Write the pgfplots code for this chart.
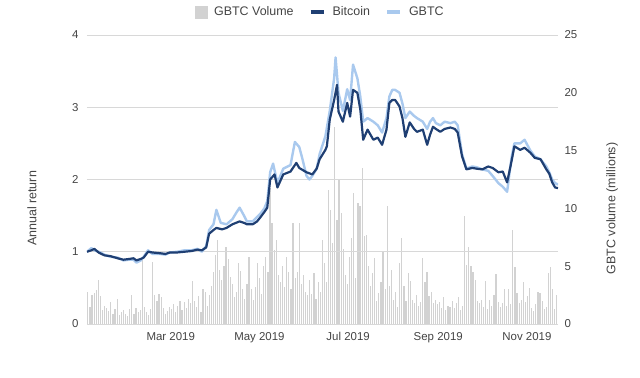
\documentclass[border=0pt]{standalone}
\usepackage{pgfplots}
\pgfplotsset{compat=1.18}
\usepackage{fontspec}
\setmainfont{Liberation Sans}
\definecolor{btc}{HTML}{1F3F73}
\definecolor{gbtc}{HTML}{A9C9EE}
\definecolor{vol}{HTML}{D2D2D2}
\definecolor{gridc}{HTML}{D8D8D8}
\definecolor{tickc}{HTML}{444444}
\begin{document}
\begin{tikzpicture}
\path[use as bounding box] (-87bp,-54bp) rectangle (553bp,324bp);
% volume axis (right)
\begin{axis}[
  scale only axis, width=471bp, height=289bp,
  xmin=0, xmax=324, ymin=0, ymax=25,
  axis line style={draw=none}, major tick length=0pt,
  xtick=\empty,
  ytick={0,5,10,15,20,25},
  yticklabel pos=right,
  /pgf/number format/assume math mode=true,
  yticklabel style={font=\fontsize{11.5}{13}\selectfont, text=tickc, xshift=3bp},
  ylabel={GBTC volume (millions)},
  ylabel style={at={(axis description cs:1.115,0.40)}, anchor=center, rotate=0, font=\fontsize{12.5}{14}\selectfont, text=tickc},
]
\addplot[ycomb, vol, line width=1.2bp, mark=none, forget plot] table[row sep=\\, x expr=\coordindex*1.44+0.6, y=v]{
v\\
2.8\\1.5\\2.5\\2.7\\2.9\\ 3.8\\2.4\\1.2\\1.6\\1.4\\ 1.1\\1.9\\0.9\\1.3\\2.2\\ 0.8\\1.0\\1.2\\0.9\\0.7\\
1.3\\2.5\\0.9\\1.4\\1.0\\ 1.2\\5.6\\1.5\\1.0\\0.8\\ 1.3\\5.4\\2.5\\2.0\\2.6\\ 2.3\\1.4\\0.9\\1.1\\1.5\\
1.3\\1.7\\1.0\\1.6\\2.0\\ 1.2\\1.9\\1.4\\2.2\\1.8\\ 3.7\\2.0\\1.5\\2.4\\1.0\\ 3.0\\2.8\\1.6\\2.5\\3.3\\
4.5\\6.0\\7.3\\4.7\\3.8\\ 5.0\\6.7\\5.6\\4.1\\3.5\\ 2.3\\2.8\\5.3\\4.6\\3.0\\ 2.2\\3.5\\5.8\\3.0\\2.1\\
3.2\\5.3\\4.0\\2.6\\5.0\\ 5.8\\4.5\\11.8\\8.7\\6.4\\ 7.3\\4.2\\3.6\\5.0\\3.2\\ 5.8\\4.5\\3.0\\8.7\\4.0\\
4.5\\8.7\\3.5\\4.2\\2.8\\ 2.5\\3.8\\2.6\\4.4\\2.2\\ 3.6\\2.8\\7.3\\5.3\\3.6\\ 11.6\\9.9\\7.0\\17.0\\9.0\\
12.5\\9.6\\6.5\\4.2\\3.5\\ 5.8\\7.4\\11.3\\4.0\\10.5\\ 10.2\\13.5\\7.6\\7.7\\5.0\\ 3.3\\4.4\\5.7\\2.0\\2.7\\
3.6\\6.2\\3.0\\10.2\\3.3\\ 4.7\\2.1\\2.8\\1.5\\5.3\\ 7.4\\3.3\\2.0\\4.4\\3.7\\ 2.1\\1.8\\2.5\\1.6\\1.9\\
5.7\\3.6\\4.5\\2.4\\2.8\\ 1.8\\2.1\\1.7\\1.9\\1.4\\ 2.3\\1.2\\1.6\\1.5\\2.0\\ 1.4\\1.8\\2.3\\1.2\\1.6\\
9.3\\5.1\\6.7\\5.0\\4.5\\ 3.8\\2.0\\1.8\\2.1\\1.5\\ 3.7\\1.3\\2.1\\1.6\\2.5\\ 4.3\\1.9\\1.5\\1.8\\3.0\\
1.6\\3.0\\1.7\\8.1\\4.9\\ 2.7\\1.8\\2.1\\3.6\\1.9\\ 2.4\\3.1\\1.4\\1.1\\1.7\\ 2.8\\2.7\\2.0\\1.3\\1.5\\
4.4\\4.9\\3.0\\1.3\\2.5\\
};
\end{axis}
% return axis (left)
\begin{axis}[
  scale only axis, width=471bp, height=289bp,
  xmin=0, xmax=324, ymin=0, ymax=4,
  axis line style={draw=none}, major tick length=0pt,
  xtick={59,120,181,243,304},
  xticklabels={Mar 2019, May 2019, Jul 2019, Sep 2019, Nov 2019},
  ytick={0,1,2,3,4},
  ymajorgrids, grid style={gridc, line width=0.9bp},
  /pgf/number format/assume math mode=true,
  yticklabel style={font=\fontsize{11.5}{13}\selectfont, text=tickc, xshift=-5bp},
  xticklabel style={font=\fontsize{11.5}{13}\selectfont, text=tickc, yshift=-5bp, xshift=-2bp},
  ylabel={Annual return},
  ylabel style={at={(axis description cs:-0.117,0.40)}, anchor=center, font=\fontsize{12.5}{14}\selectfont, text=tickc},
  legend style={at={(0.495,1.08)}, anchor=center, draw=none, fill=none,
    legend columns=-1, font=\fontsize{12.5}{14}\selectfont, text=tickc,
    /tikz/every odd column/.append style={column sep=5bp},
    /tikz/every even column/.append style={column sep=13bp}},
]
\addlegendimage{legend image code/.code={\fill[vol] (0bp,-6bp) rectangle (12bp,6bp);}}
\addlegendimage{legend image code/.code={\draw[btc, line width=4bp] (0bp,0bp) -- (13bp,0bp);}}
\addlegendimage{legend image code/.code={\draw[gbtc, line width=4bp] (0bp,0bp) -- (13bp,0bp);}}
\addplot[gbtc, line width=2.4bp, mark=none, forget plot, line join=round] coordinates {
(0,1.00)(3,1.05)(5,1.02)(8,1.00)(12,0.96)(16,0.93)(21,0.92)(25,0.88)(29,0.89)(32,0.89)
(34,0.85)(37,0.88)(39,0.93)(42,1.02)(45,0.97)(50,0.97)(54,0.96)(57,0.99)(62,1.00)(67,1.02)
(72,1.02)(76,1.04)(79,1.00)(82,1.08)(84,1.30)(87,1.38)(89,1.58)(92,1.40)(96,1.38)(100,1.45)
(103,1.55)(105,1.61)(108,1.50)(110,1.42)(114,1.42)(117,1.48)(119,1.52)(122,1.60)(124,1.70)(126,2.10)
(128,2.22)(131,1.95)(135,2.15)(140,2.20)(143,2.52)(146,2.45)(148,2.30)(151,2.05)(153,2.00)(155,2.05)
(158,2.15)(160,2.35)(164,2.60)(167,2.95)(170,3.40)(171,3.69)(173,3.20)(176,2.95)(179,3.25)(181,3.10)
(183,3.59)(186,3.40)(188,3.15)(190,2.80)(193,2.85)(197,2.80)(200,2.75)(203,2.65)(206,2.85)(208,3.15)
(210,3.24)(212,3.24)(215,3.20)(217,3.05)(219,2.85)(222,2.94)(225,2.88)(227,2.85)(231,2.80)(234,2.70)
(236,2.80)(238,2.85)(240,2.78)(243,2.75)(246,2.80)(250,2.78)(253,2.80)(255,2.75)(258,2.35)(261,2.15)
(265,2.18)(268,2.17)(272,2.14)(276,2.12)(279,2.05)(283,1.95)(286,1.90)(289,1.83)(292,2.30)(294,2.50)
(298,2.50)(301,2.55)(305,2.40)(308,2.32)(312,2.28)(316,2.18)(318,2.10)(320,2.00)(322,1.95)(324,1.93)
};
\addplot[btc, line width=2.2bp, mark=none, forget plot, line join=round] coordinates {
(0,1.00)(3,1.02)(5,1.04)(8,0.99)(12,0.95)(16,0.94)(21,0.91)(25,0.89)(29,0.90)(32,0.91)
(34,0.88)(37,0.90)(39,0.92)(42,1.00)(45,0.99)(50,0.98)(54,0.97)(57,0.99)(62,0.99)(67,1.00)
(72,1.01)(76,1.03)(79,1.02)(82,1.06)(84,1.25)(87,1.30)(89,1.33)(93,1.31)(96,1.33)(100,1.38)
(105,1.42)(108,1.40)(110,1.38)(114,1.38)(117,1.42)(119,1.47)(122,1.55)(124,1.61)(126,2.00)(129,2.07)
(131,1.89)(135,2.07)(140,2.11)(144,2.23)(146,2.16)(151,2.10)(155,2.07)(158,2.15)(160,2.28)(164,2.41)
(165,2.46)(167,2.83)(170,3.10)(172,3.31)(173,2.94)(176,2.80)(179,3.06)(181,2.87)(183,3.24)(186,3.20)
(188,2.97)(190,2.55)(193,2.69)(197,2.55)(200,2.58)(203,2.48)(206,2.69)(208,3.06)(210,3.10)(212,3.10)
(215,3.01)(217,2.85)(219,2.59)(222,2.79)(225,2.70)(227,2.66)(231,2.69)(234,2.48)(236,2.62)(238,2.73)
(240,2.70)(243,2.66)(246,2.70)(250,2.72)(253,2.70)(255,2.65)(258,2.32)(261,2.14)(265,2.16)(268,2.15)
(272,2.14)(276,2.18)(279,2.16)(283,2.10)(286,2.11)(289,1.96)(292,2.25)(294,2.46)(298,2.41)(301,2.44)
(305,2.37)(308,2.30)(312,2.28)(316,2.14)(318,2.08)(320,1.96)(322,1.89)(324,1.88)
};
\legend{GBTC Volume, Bitcoin, GBTC}
\end{axis}
\end{tikzpicture}
\end{document}
